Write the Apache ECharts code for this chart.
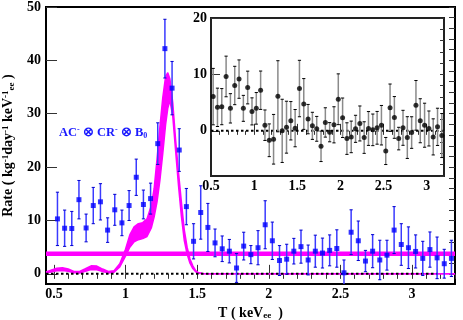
<!DOCTYPE html>
<html><head><meta charset="utf-8">
<script src="https://cdn.jsdelivr.net/npm/echarts@6/dist/echarts.min.js"></script>
<style>html,body{margin:0;padding:0;background:#fff}#c{width:463px;height:320px}</style>
</head><body><div id="c"></div>
<script>
// ---------- data ----------
const binX = [0.525,0.575,0.625,0.675,0.725,0.775,0.825,0.875,0.925,0.975,1.025,1.075,1.125,1.175,1.225,1.275,1.325,1.375,1.425,1.475,1.525,1.575,1.625,1.675,1.725,1.775,1.825,1.875,1.925,1.975,2.025,2.075,2.125,2.175,2.225,2.275,2.325,2.375,2.425,2.475,2.525,2.575,2.625,2.675,2.725,2.775,2.825,2.875,2.925,2.975,3.025,3.075,3.125,3.175,3.225,3.275];
const rate = [10.3,8.55,8.5,13.9,8.6,12.8,13.5,8.2,12.0,9.55,12.8,18.1,13.0,14.1,24.4,42.2,34.8,23.2,12.6,6.1,11.5,8.7,5.8,4.7,4.25,1.1,5.2,3.6,4.9,9.2,6.2,2.5,2.75,4.25,5.1,2.6,4.25,3.9,4.4,4.75,0.2,7.8,6.2,2.4,4.25,2.6,3.5,8.2,5.5,4.9,4.2,2.9,4.55,3.0,1.9,2.9];
const rateErr = [5.0,3.4,3.2,3.6,2.6,3.4,3.4,2.3,2.9,2.4,2.8,3.4,2.7,2.9,3.9,5.5,5.0,4.0,3.4,3.3,5.0,4.5,2.6,2.4,2.2,2.7,2.6,1.7,3.2,4.5,3.5,2.8,2.8,2.4,3.1,2.8,3.0,2.8,2.9,3.5,2.4,4.2,3.7,2.0,3.1,3.7,2.8,4.4,3.9,3.9,3.1,3.2,3.3,3.9,2.7,3.4];

const resX = [0.525,0.575,0.625,0.675,0.725,0.775,0.825,0.875,0.925,0.975,1.025,1.075,1.125,1.175,1.225,1.275,1.325,1.375,1.425,1.475,1.525,1.575,1.625,1.675,1.725,1.775,1.825,1.875,1.925,1.975,2.025,2.075,2.125,2.175,2.225,2.275,2.325,2.375,2.425,2.475,2.525,2.575,2.625,2.675,2.725,2.775,2.825,2.875,2.925,2.975,3.025,3.075,3.125,3.175];
const resid = [6.07,4.17,4.29,9.64,3.99,8.04,9.17,3.99,7.68,3.45,3.99,7.2,1.0,-1.67,-1.49,6.13,0,0.65,1.79,0.48,7.5,4.76,2.08,0.89,0.36,-2.74,1.49,-0.24,1.07,5.6,2.32,-1.37,-1.07,0.36,1.31,-1.19,0.42,0.18,0.54,1.0,-3.57,4.1,2.38,-1.37,0.54,-1.19,-0.3,4.52,1.79,1.0,0.42,-1.07,0.71,-0.83];
const residErr = [5.0,3.4,3.2,3.6,2.6,3.4,3.4,2.3,2.9,2.4,2.8,3.4,2.7,2.9,4.4,6.3,5.6,4.6,3.4,3.3,5.0,4.5,2.6,2.4,2.2,2.7,2.6,1.7,3.2,4.5,3.5,2.8,2.8,2.4,3.1,2.8,3.0,2.8,2.9,3.5,2.4,4.2,3.7,2.0,3.1,3.7,2.8,4.4,3.9,3.9,3.1,3.2,3.3,3.9];

// fit band (signal), upper / lower edges
const fitX  = [0.445,0.48,0.52,0.56,0.60,0.64,0.68,0.72,0.76,0.80,0.84,0.88,0.92,0.96,1.00,1.03,1.06,1.09,1.12,1.15,1.18,1.20,1.22,1.24,1.26,1.28,1.295,1.31,1.33,1.35,1.37,1.39,1.41,1.43,1.45,1.47,1.49,1.51,1.54,1.57,3.3];
const fitUp = [0.35,0.7,1.05,1.15,0.9,0.45,0.45,0.95,1.5,1.45,0.9,0.45,0.6,1.9,4.6,7.3,8.8,9.4,9.6,10.3,12.8,16.0,21.5,27.5,33.0,37.0,37.7,36.5,32.0,25.0,19.0,13.5,8.3,5.0,2.8,1.5,0.6,0.2,0.05,0,0];
const fitLo = [0.15,0.35,0.6,0.65,0.5,0.2,0.15,0.5,0.8,0.75,0.45,0.15,0.3,1.3,3.3,5.0,6.0,6.4,6.6,7.0,8.6,10.7,13.5,17.5,22.5,28.0,31.0,32.5,29.5,23.0,16.5,10.8,6.3,3.7,2.0,1.0,0.4,0.1,0,0,0];

const bgX = [0.445,3.3];
const bgLevel = [3.75,3.75];
const zeroX = [0.445,3.18];
const zeroInsetX = [0.5,3.2];

const mainXTicks = [0.5,1,1.5,2,2.5,3];
const mainXMinor = [0.5,0.6,0.7,0.8,0.9,1.0,1.1,1.2,1.3,1.4,1.5,1.6,1.7,1.8,1.9,2.0,2.1,2.2,2.3,2.4,2.5,2.6,2.7,2.8,2.9,3.0,3.1,3.2,3.3];
const mainYTicks = [0,10,20,30,40,50];
const mainYMinor = [0,2,4,6,8,10,12,14,16,18,20,22,24,26,28,30,32,34,36,38,40,42,44,46,48,50];
const insetXTicks = [0.5,1,1.5,2,2.5,3];
const insetXMinor = [0.5,0.6,0.7,0.8,0.9,1.0,1.1,1.2,1.3,1.4,1.5,1.6,1.7,1.8,1.9,2.0,2.1,2.2,2.3,2.4,2.5,2.6,2.7,2.8,2.9,3.0,3.1,3.2];
const insetYTicks = [0,10,20];
const insetYMinor = [-8,-6,-4,-2,0,2,4,6,8,10,12,14,16,18,20];

// ---------- chart ----------
const F = '"Liberation Serif","Times New Roman",serif';
const MAG = '#ff00ff';
const chart = echarts.init(document.getElementById('c'), null, {renderer:'canvas'});

function errRender(barColor, capColor){
  return function(params, api){
    const x = api.value(0), v = api.value(1), e = api.value(2);
    const t = api.coord([x, v+e]), b = api.coord([x, v-e]);
    const c = 1.6;
    return {type:'group', children:[
      {type:'line', shape:{x1:t[0],y1:t[1],x2:b[0],y2:b[1]}, style:{stroke:barColor,lineWidth:1.5}},
      {type:'line', shape:{x1:t[0]-c,y1:t[1],x2:t[0]+c,y2:t[1]}, style:{stroke:capColor,lineWidth:1}},
      {type:'line', shape:{x1:b[0]-c,y1:b[1],x2:b[0]+c,y2:b[1]}, style:{stroke:capColor,lineWidth:1}}
    ]};
  };
}
function bandRender(params, api){
  const pts = [];
  for (let i=0;i<fitX.length;i++) pts.push(api.coord([fitX[i], fitUp[i]]));
  for (let i=fitX.length-1;i>=0;i--) pts.push(api.coord([fitX[i], fitLo[i]]));
  return {type:'polygon', shape:{points:pts}, style:{fill:MAG, stroke:null}};
}
const zip = (a,b,c) => a.map((x,i)=> c ? [x,b[i],c[i]] : [x,b[i]]);

const tickStyle = {color:'#333', width:1};
function xMajor(grid, min, max, ticks, len, name){
  return {type:'value', gridIndex:grid, min:min, max:max,
    axisLine:{show:false}, splitLine:{show:false},
    axisTick:{show:true, inside:true, length:len, customValues:ticks, lineStyle:tickStyle},
    axisLabel:{show:true, customValues:ticks, margin:3, fontFamily:F, fontWeight:'bold', fontSize:14, color:'#000'},
    name: name || '', nameLocation:'middle', nameGap:17,
    nameTextStyle:{fontFamily:F, fontWeight:'bold', fontSize:14, color:'#000',
      rich:{b:{fontFamily:F,fontWeight:'bold',fontSize:14,color:'#000'},
            sub:{fontFamily:F,fontWeight:'bold',fontSize:9,color:'#000',verticalAlign:'bottom',padding:[6,0,0,0]}}}
  };
}
function minorAxis(kind, grid, min, max, ticks, len){
  return {type:'value', gridIndex:grid, min:min, max:max,
    axisLine:{show:false}, splitLine:{show:false}, axisLabel:{show:false},
    axisTick:{show:true, inside:true, length:len, customValues:ticks, lineStyle:tickStyle}};
}
function yMajor(grid, min, max, ticks, len, margin){
  return {type:'value', gridIndex:grid, min:min, max:max,
    axisLine:{show:false}, splitLine:{show:false},
    axisTick:{show:true, inside:true, length:len, customValues:ticks, lineStyle:tickStyle},
    axisLabel:{show:true, customValues:ticks, margin:margin, fontFamily:F, fontWeight:'bold', fontSize:14, color:'#000'}};
}

const yMain = yMajor(0, -1.9, 50, mainYTicks, 11, 5);
yMain.name = '{b|Rate ( kg}{s|-1}{b|day}{s|-1}{b| keV}{s|-1}{sub|ee}{b| )}';
yMain.nameLocation = 'middle';
yMain.nameRotate = 90;
yMain.nameGap = 29;
yMain.nameTextStyle = {rich:{
  b:{fontFamily:F,fontWeight:'bold',fontSize:14,color:'#000'},
  s:{fontFamily:F,fontWeight:'bold',fontSize:9,color:'#000',verticalAlign:'top',padding:[0,0,6,0]},
  sub:{fontFamily:F,fontWeight:'bold',fontSize:9,color:'#000',verticalAlign:'bottom',padding:[6,0,0,0]}}};

const option = {
  animation:false,
  backgroundColor:'#fff',
  grid:[
    {left:46, top:7, right:8, bottom:36, show:true, borderColor:'#000', borderWidth:2, backgroundColor:'transparent', containLabel:false, outerBoundsMode:'none'},
    {left:211, top:18, right:19, bottom:144, show:true, borderColor:'#222', borderWidth:2, backgroundColor:'#fff', containLabel:false, outerBoundsMode:'none'}
  ],
  xAxis:[
    xMajor(0, 0.445, 3.3, mainXTicks, 9, '{b|T ( keV}{sub|ee}{b|  )}'),
    minorAxis('x', 0, 0.445, 3.3, mainXMinor, 5),
    xMajor(1, 0.5, 3.2, insetXTicks, 7, ''),
    minorAxis('x', 1, 0.5, 3.2, insetXMinor, 4)
  ],
  yAxis:[
    yMain,
    minorAxis('y', 0, -1.9, 50, mainYMinor, 6),
    yMajor(1, -8, 20, insetYTicks, 9, 4),
    minorAxis('y', 1, -8, 20, insetYMinor, 4)
  ],
  graphic:[
    {type:'text', left:59, top:126, z:100,
     style:{text:'{b|AC}{sup|-}{b| ⊗ CR}{sup|-}{b| ⊗ B}{sub|0}',
       rich:{b:{fontFamily:F,fontWeight:'bold',fontSize:12.5,fill:'#1a1aff'},
             sup:{fontFamily:F,fontWeight:'bold',fontSize:8,fill:'#1a1aff',verticalAlign:'top',padding:[0,0,6,0]},
             sub:{fontFamily:F,fontWeight:'bold',fontSize:8,fill:'#1a1aff',verticalAlign:'bottom',padding:[5,0,0,0]}}}}
  ],
  series:[
    {type:'line', xAxisIndex:0, yAxisIndex:0, data:zip(bgX,bgLevel), symbol:'none',
     lineStyle:{color:MAG, width:4.5}, z:2},
    {type:'custom', xAxisIndex:0, yAxisIndex:0, data:[[fitX[0], fitUp[0]]], renderItem:bandRender, clip:true, z:3},
    {type:'line', xAxisIndex:0, yAxisIndex:0, data:zip(fitX,fitUp), symbol:'none', lineStyle:{color:MAG, width:1.5}, z:3},
    {type:'line', xAxisIndex:0, yAxisIndex:0, data:zip(fitX,fitLo), symbol:'none', lineStyle:{color:MAG, width:1.5}, z:3},
    {type:'line', xAxisIndex:0, yAxisIndex:0, data:zip(zeroX,[0,0]), symbol:'none',
     lineStyle:{color:'#000', width:2, type:[2.5,2.5]}, z:4},
    {type:'custom', xAxisIndex:0, yAxisIndex:0, data:zip(binX,rate,rateErr), renderItem:errRender('#3a3aff','#0000cc'), clip:true, z:5},
    {type:'scatter', xAxisIndex:0, yAxisIndex:0, data:zip(binX,rate), symbol:'rect', symbolSize:5,
     itemStyle:{color:'#0000ff'}, z:6},

    {type:'line', xAxisIndex:2, yAxisIndex:2, data:zip(zeroInsetX,[0,0]), symbol:'none',
     lineStyle:{color:'#000', width:2, type:[2.5,2.5]}, z:10},
    {type:'custom', xAxisIndex:2, yAxisIndex:2, data:zip(resX,resid,residErr), renderItem:errRender('#8a8a8a','#000'), clip:true, z:11},
    {type:'scatter', xAxisIndex:2, yAxisIndex:2, data:zip(resX,resid), symbol:'circle', symbolSize:5,
     itemStyle:{color:'#000'}, z:12}
  ]
};
chart.setOption(option);
</script></body></html>
